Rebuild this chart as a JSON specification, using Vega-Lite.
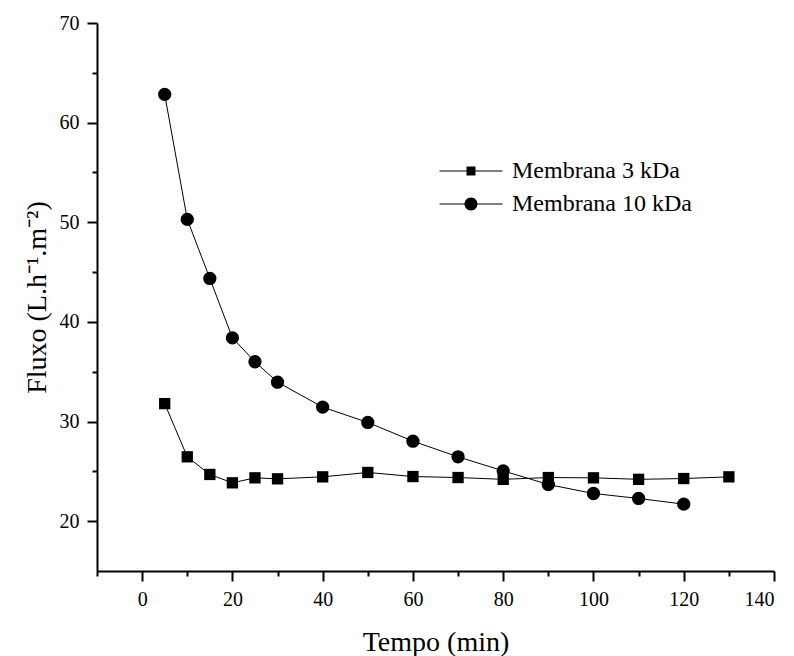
{
  "$schema": "https://vega.github.io/schema/vega-lite/v6.json",
  "width": 677,
  "height": 548,
  "autosize": {"type": "none"},
  "padding": {"left": 97, "top": 23, "right": 20, "bottom": 85},
  "background": "white",
  "config": {
    "view": {"stroke": null},
    "font": "Liberation Serif, Times New Roman, serif",
    "axis": {
      "domainColor": "black", "domainWidth": 2, "tickColor": "black", "tickWidth": 2, "tickSize": 10,
      "labelFont": "Liberation Serif, Times New Roman, serif", "labelFontSize": 20, "labelColor": "black", "labelPadding": 8,
      "titleFont": "Liberation Serif, Times New Roman, serif", "titleFontSize": 28, "titleFontWeight": "normal", "titleColor": "black",
      "grid": false
    },
    "legend": {
      "orient": "none", "legendX": 362, "legendY": 136,
      "symbolSize": 400, "symbolStrokeWidth": 0, "symbolFillColor": "black",
      "labelFont": "Liberation Serif, Times New Roman, serif", "labelFontSize": 24, "labelColor": "black", "labelOffset": 29,
      "rowPadding": 9, "labelLimit": 400
    }
  },
  "data": {
    "values": [
      {"t": 5, "fluxo": 31.8, "serie": "Membrana 3 kDa"},
      {"t": 10, "fluxo": 26.46, "serie": "Membrana 3 kDa"},
      {"t": 15, "fluxo": 24.69, "serie": "Membrana 3 kDa"},
      {"t": 20, "fluxo": 23.85, "serie": "Membrana 3 kDa"},
      {"t": 25, "fluxo": 24.35, "serie": "Membrana 3 kDa"},
      {"t": 30, "fluxo": 24.25, "serie": "Membrana 3 kDa"},
      {"t": 40, "fluxo": 24.45, "serie": "Membrana 3 kDa"},
      {"t": 50, "fluxo": 24.89, "serie": "Membrana 3 kDa"},
      {"t": 60, "fluxo": 24.48, "serie": "Membrana 3 kDa"},
      {"t": 70, "fluxo": 24.38, "serie": "Membrana 3 kDa"},
      {"t": 80, "fluxo": 24.2, "serie": "Membrana 3 kDa"},
      {"t": 90, "fluxo": 24.38, "serie": "Membrana 3 kDa"},
      {"t": 100, "fluxo": 24.35, "serie": "Membrana 3 kDa"},
      {"t": 110, "fluxo": 24.2, "serie": "Membrana 3 kDa"},
      {"t": 120, "fluxo": 24.28, "serie": "Membrana 3 kDa"},
      {"t": 130, "fluxo": 24.45, "serie": "Membrana 3 kDa"},
      {"t": 5, "fluxo": 62.84, "serie": "Membrana 10 kDa"},
      {"t": 10, "fluxo": 50.29, "serie": "Membrana 10 kDa"},
      {"t": 15, "fluxo": 44.36, "serie": "Membrana 10 kDa"},
      {"t": 20, "fluxo": 38.4, "serie": "Membrana 10 kDa"},
      {"t": 25, "fluxo": 36.0, "serie": "Membrana 10 kDa"},
      {"t": 30, "fluxo": 33.95, "serie": "Membrana 10 kDa"},
      {"t": 40, "fluxo": 31.45, "serie": "Membrana 10 kDa"},
      {"t": 50, "fluxo": 29.91, "serie": "Membrana 10 kDa"},
      {"t": 60, "fluxo": 28.03, "serie": "Membrana 10 kDa"},
      {"t": 70, "fluxo": 26.46, "serie": "Membrana 10 kDa"},
      {"t": 80, "fluxo": 25.05, "serie": "Membrana 10 kDa"},
      {"t": 90, "fluxo": 23.68, "serie": "Membrana 10 kDa"},
      {"t": 100, "fluxo": 22.78, "serie": "Membrana 10 kDa"},
      {"t": 110, "fluxo": 22.28, "serie": "Membrana 10 kDa"},
      {"t": 120, "fluxo": 21.71, "serie": "Membrana 10 kDa"}
    ]
  },
  "layer": [
    {
      "mark": {"type": "line", "color": "black", "strokeWidth": 1},
      "encoding": {
        "x": {"field": "t", "type": "quantitative", "scale": {"domain": [-10, 140], "nice": false, "zero": false},
              "axis": {"orient": "bottom", "values": [0, 20, 40, 60, 80, 100, 120, 140], "title": "Tempo (min)", "titlePadding": 19}},
        "y": {"field": "fluxo", "type": "quantitative", "scale": {"domain": [15, 70], "nice": false, "zero": false},
              "axis": {"orient": "left", "values": [20, 30, 40, 50, 60, 70], "title": "Fluxo (L.h⁻¹.m⁻²)", "titlePadding": 8}},
        "detail": {"field": "serie", "type": "nominal"}
      }
    },
    {
      "transform": [{"filter": "datum.serie == 'Membrana 3 kDa'"}],
      "mark": {"type": "point", "shape": "square", "filled": true, "color": "black", "size": 128, "opacity": 1},
      "encoding": {
        "x": {"field": "t", "type": "quantitative",
              "axis": {"orient": "bottom", "values": [-10, 10, 30, 50, 70, 90, 110, 130], "tickSize": 5, "labels": false, "domain": false, "title": null}},
        "y": {"field": "fluxo", "type": "quantitative",
              "axis": {"orient": "left", "values": [25, 35, 45, 55, 65], "tickSize": 5, "labels": false, "domain": false, "title": null}}
      }
    },
    {
      "transform": [{"filter": "datum.serie == 'Membrana 10 kDa'"}],
      "mark": {"type": "point", "shape": "circle", "filled": true, "color": "black", "size": 177, "opacity": 1},
      "encoding": {
        "x": {"field": "t", "type": "quantitative", "axis": null},
        "y": {"field": "fluxo", "type": "quantitative", "axis": null}
      }
    },
    {
      "transform": [{"filter": "false"}],
      "mark": {"type": "point", "filled": true, "color": "black", "opacity": 1},
      "encoding": {
        "x": {"field": "t", "type": "quantitative", "axis": null},
        "y": {"field": "fluxo", "type": "quantitative", "axis": null},
        "shape": {"field": "serie", "type": "nominal",
                  "scale": {"domain": ["Membrana 3 kDa", "Membrana 10 kDa"],
                            "range": ["M-3.15,-0.05H-0.45V0.05H-3.15ZM0.45,-0.05H3.15V0.05H0.45ZM-0.45,-0.45H0.45V0.45H-0.45Z", "M-3.15,-0.05H-0.65V0.05H-3.15ZM0.65,-0.05H3.15V0.05H0.65ZM-0.65,0A0.65,0.65,0,1,0,0.65,0A0.65,0.65,0,1,0,-0.65,0Z"]},
                  "legend": {"title": null}}
      }
    }
  ],
  "resolve": {"axis": {"x": "independent", "y": "independent"}}
}
